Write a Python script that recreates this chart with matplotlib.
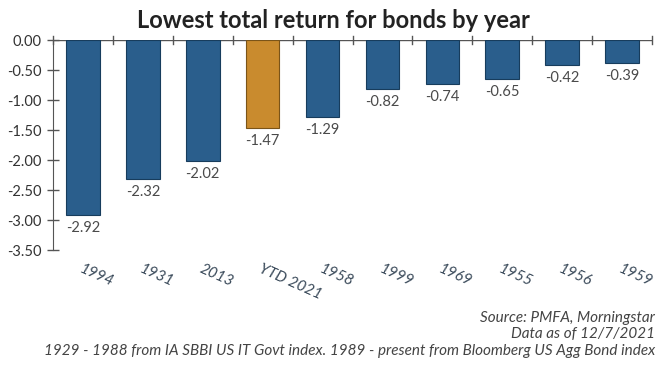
import matplotlib
matplotlib.use("Agg")
import matplotlib.pyplot as plt
from matplotlib.transforms import blended_transform_factory

categories = ["1994", "1931", "2013", "YTD 2021", "1958", "1999", "1969", "1955", "1956", "1959"]
values = [-2.92, -2.32, -2.02, -1.47, -1.29, -0.82, -0.74, -0.65, -0.42, -0.39]
highlight = "YTD 2021"
yticks = [0.0, -0.5, -1.0, -1.5, -2.0, -2.5, -3.0, -3.5]

plt.rcParams['font.family'] = ['Lato', 'DejaVu Sans']

fig = plt.figure(figsize=(6.67, 3.65), dpi=100)
ax = fig.add_axes([53/667, 1 - 250/365, (652-53)/667, (250-40)/365])

blue = "#2a5e8c"
orange = "#c98b2e"
colors = [orange if c == highlight else blue for c in categories]
edges = ["#7a5418" if c == highlight else "#173c5c" for c in categories]
x = list(range(len(categories)))
ax.bar(x, values, width=0.56, color=colors, edgecolor=edges, linewidth=0.8)

for xi, v in zip(x, values):
    ax.text(xi, v - 0.1, f"{v:.2f}", ha="center", va="top", fontsize=10.5, color="#4a4a4a")

ax.set_xlim(-0.5, len(categories) - 0.5)
ax.set_ylim(-3.5, 0)
ax.set_yticks(yticks)
ax.set_yticklabels([f"{t:.2f}" for t in yticks], fontsize=10.5, color="#333333")
ax.set_xticks([i - 0.5 for i in range(len(categories) + 1)])
ax.set_xticklabels([])
ax.tick_params(axis="both", direction="inout", length=8, width=1, color="#555555")
ax.tick_params(axis="x", bottom=False, top=False)
ax.tick_params(axis="y", pad=4)

for s in ["top", "right", "bottom"]:
    ax.spines[s].set_visible(False)
ax.spines["left"].set_color("#555555")
ax.axhline(0, color="#555555", lw=1, zorder=0)
for i in range(len(categories) + 1):
    ax.plot([i - 0.5, i - 0.5], [-0.07, 0.07], color="#555555", lw=1, clip_on=False)

trans = blended_transform_factory(ax.transData, ax.transAxes)
for xi, c in zip(x, categories):
    ax.text(xi, -0.055, c, transform=trans, rotation=-24, rotation_mode="anchor",
            ha="left", va="top", fontsize=11, style="italic", color="#3a4a5a")

fig.text(0.5, 0.975, "Lowest total return for bonds by year", ha="center", va="top",
         fontsize=17, fontweight="bold", color="#222222")

foot = dict(ha="right", va="center", fontsize=11, style="italic", color="#444444")
fig.text(655/667, 1 - 318/365, "Source: PMFA, Morningstar", **foot)
fig.text(655/667, 1 - 334/365, "Data as of 12/7/2021", **foot)
fig.text(655/667, 1 - 351/365,
         "1929 - 1988 from IA SBBI US IT Govt index. 1989 - present from Bloomberg US Agg Bond index",
         **foot)

fig.savefig("out.png", dpi=100, facecolor="white")
